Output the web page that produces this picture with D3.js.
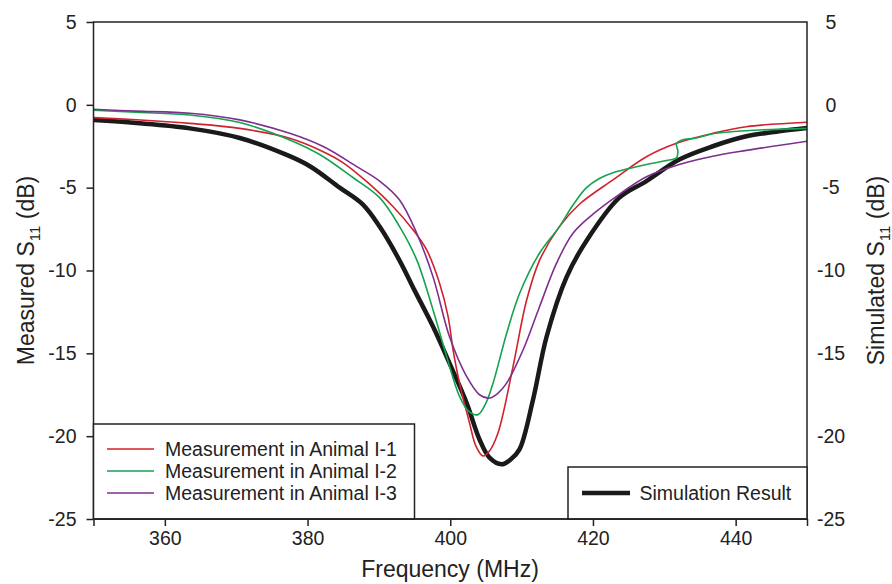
<!DOCTYPE html>
<html>
<head>
<meta charset="utf-8">
<script src="https://cdn.jsdelivr.net/npm/d3@7"></script>
<style>
  body { margin: 0; background: #fff; }
  text { font-family: "Liberation Sans", Arial, sans-serif; fill: #222; }
</style>
</head>
<body>
<div class="chart"></div>
<script>
// ---- data ----
var simFreq = [350, 356, 363.5, 370.5, 377.5, 380.5, 384.5, 387.7, 390.1, 392.9, 395, 397.6, 400, 402.3, 404.1, 405.5, 407.2, 408.5, 409.7, 411.6, 413.5, 416.3, 419.1, 423.7, 427.5, 432.1, 436.8, 441.5, 446.1, 450];
var simS11 = [-0.92, -1.1, -1.42, -2.0, -3.1, -3.75, -5.0, -6.0, -7.35, -9.4, -11.2, -13.4, -15.7, -18.0, -20.2, -21.3, -21.7, -21.4, -20.8, -17.8, -14.0, -10.4, -8.2, -5.6, -4.6, -3.3, -2.5, -1.9, -1.6, -1.4];

var redFreq = [350, 356, 363.5, 370.5, 377.5, 382.2, 385, 388.3, 392, 394.8, 396.7, 398.5, 399.7, 400.4, 401.3, 402.7, 403.6, 404.6, 405.5, 406.7, 408.8, 410.7, 412.5, 415.3, 418.1, 422.8, 427.5, 431.7, 436.8, 441.5, 450];
var redS11 = [-0.77, -0.9, -1.12, -1.42, -2.02, -2.83, -3.5, -4.64, -6.15, -7.55, -8.76, -10.77, -12.78, -14.8, -16.8, -19.2, -20.6, -21.2, -20.9, -19.8, -15.8, -11.8, -9.4, -7.35, -6.0, -4.53, -3.13, -2.32, -1.72, -1.32, -1.05];

var greenFreq = [350, 356, 363.5, 370.5, 377.5, 381.7, 386.4, 390.1, 392.9, 395.3, 397.6, 399.5, 401.3, 402.6, 403.9, 405, 406, 407.9, 409.7, 412.5, 415.3, 417.2, 419.1, 420.9, 422.8, 427.5, 430.5, 431.7, 431.9, 431.7, 432.3, 434.5, 436.8, 441.5, 450];
var greenS11 = [-0.32, -0.45, -0.61, -1.07, -2.12, -3.0, -4.4, -5.6, -7.35, -9.36, -12.4, -15.2, -17.6, -18.5, -18.7, -18.0, -16.8, -13.8, -11.4, -8.96, -7.35, -6.05, -5.0, -4.45, -4.1, -3.6, -3.35, -3.2, -2.8, -2.35, -2.15, -2.0, -1.75, -1.56, -1.42];

var purpleFreq = [350, 356, 363.5, 370.5, 377.5, 382.2, 386.9, 390.1, 392.9, 395.3, 397.6, 399.9, 402.3, 404.1, 405.5, 406.7, 407.9, 410.2, 412.5, 414.9, 417.2, 420, 423.7, 427.5, 432.1, 436.8, 441.5, 450];
var purpleS11 = [-0.27, -0.38, -0.51, -0.91, -1.72, -2.52, -3.73, -4.6, -5.74, -7.75, -10.4, -14.0, -16.4, -17.5, -17.7, -17.4, -16.8, -14.8, -12.2, -9.56, -7.75, -6.6, -5.4, -4.34, -3.6, -3.1, -2.75, -2.2];

var xTicks = [360, 380, 400, 420, 440];
var yTicks = [5, 0, -5, -10, -15, -20, -25];

var measNames = ["Measurement in Animal I-1", "Measurement in Animal I-2", "Measurement in Animal I-3"];
var measColors = ["#d0222e", "#14a34f", "#7e2f8e"];
var simName = "Simulation Result";

// ---- layout ----
var svgWidth = 892;
var svgHeight = 584;
var margin = { top: 22, right: 85, bottom: 65, left: 93.5 };
var width = svgWidth - margin.left - margin.right;
var height = svgHeight - margin.top - margin.bottom;

var svg = d3.select(".chart")
  .append("svg")
  .attr("width", svgWidth)
  .attr("height", svgHeight);

var chartGroup = svg.append("g")
  .attr("transform", `translate(${margin.left}, ${margin.top})`);

var xScale = d3.scaleLinear().domain([350, 450]).range([0, width]);
var yScale = d3.scaleLinear().domain([-25, 5]).range([height, 0]);

// axes (plain hyphen for negatives, like the original)
var plain = d => String(d);
var bottomAxis = d3.axisBottom(xScale).tickValues([350].concat(xTicks, [450]))
  .tickSize(7).tickPadding(5)
  .tickFormat(d => (d === 350 || d === 450) ? "" : d);
var leftAxis = d3.axisLeft(yScale).tickValues(yTicks).tickSize(7).tickPadding(10).tickFormat(plain);
var rightAxis = d3.axisRight(yScale).tickValues(yTicks).tickSize(0).tickPadding(24).tickFormat(plain);

function styleAxis(g) {
  g.select(".domain").remove();
  g.selectAll(".tick line").attr("stroke", "#222").attr("stroke-width", 1.5);
  g.selectAll(".tick text").style("font-size", "19.5px").attr("fill", "#222")
    .style("font-family", "'Liberation Sans', Arial, sans-serif");
}

chartGroup.append("g").attr("transform", `translate(0,${height})`).call(bottomAxis).call(styleAxis);
chartGroup.append("g").call(leftAxis).call(styleAxis);
chartGroup.append("g").attr("transform", `translate(${width},0)`).call(rightAxis).call(styleAxis)
  .selectAll(".tick text").attr("text-anchor", "middle");

// lines
var line = d3.line()
  .x(d => xScale(d[0]))
  .y(d => yScale(d[1]))
  .curve(d3.curveCatmullRom.alpha(0.5));

chartGroup.append("clipPath").attr("id", "plotClip")
  .append("rect").attr("width", width).attr("height", height);

var plot = chartGroup.append("g").attr("clip-path", "url(#plotClip)");

var measSeries = [
  d3.zip(redFreq, redS11),
  d3.zip(greenFreq, greenS11),
  d3.zip(purpleFreq, purpleS11)
];

plot.append("path")
  .datum(d3.zip(simFreq, simS11))
  .attr("d", line)
  .attr("fill", "none")
  .attr("stroke", "#1a1a1a")
  .attr("stroke-width", 4.5);

plot.selectAll(".meas")
  .data(measSeries)
  .enter()
  .append("path")
  .attr("class", "meas")
  .attr("d", line)
  .attr("fill", "none")
  .attr("stroke", (d, i) => measColors[i])
  .attr("stroke-width", 1.6);

// frame
chartGroup.append("rect")
  .attr("width", width)
  .attr("height", height)
  .attr("fill", "none")
  .attr("stroke", "#222")
  .attr("stroke-width", 1.5);

// legend 1 (measurements)
var leg1 = chartGroup.append("g");
leg1.append("rect")
  .attr("x", 0).attr("y", 402)
  .attr("width", 321).attr("height", height - 402)
  .attr("fill", "#fff").attr("stroke", "#222").attr("stroke-width", 1.5);
measNames.forEach(function (name, i) {
  var yy = 427 + i * 22;
  leg1.append("line")
    .attr("x1", 13.5).attr("x2", 60.5)
    .attr("y1", yy).attr("y2", yy)
    .attr("stroke", measColors[i]).attr("stroke-width", 1.6);
  leg1.append("text")
    .attr("x", 71.5).attr("y", yy + 7)
    .style("font-size", "19.5px")
    .text(name);
});

// legend 2 (simulation)
var leg2 = chartGroup.append("g");
leg2.append("rect")
  .attr("x", 474.5).attr("y", 445)
  .attr("width", width - 474.5).attr("height", height - 445)
  .attr("fill", "#fff").attr("stroke", "#222").attr("stroke-width", 1.5);
leg2.append("line")
  .attr("x1", 488.5).attr("x2", 536.5)
  .attr("y1", 471).attr("y2", 471)
  .attr("stroke", "#1a1a1a").attr("stroke-width", 4.5);
leg2.append("text")
  .attr("x", 546).attr("y", 478)
  .style("font-size", "19.5px")
  .text(simName);

// redraw frame bottom over legends
chartGroup.append("line")
  .attr("x1", 0).attr("x2", width)
  .attr("y1", height).attr("y2", height)
  .attr("stroke", "#222").attr("stroke-width", 1.5);

// axis labels
svg.append("text")
  .attr("x", 450).attr("y", 577)
  .attr("text-anchor", "middle")
  .style("font-size", "23px")
  .text("Frequency (MHz)");

function yLabel(x, main) {
  var t = svg.append("text")
    .attr("transform", `translate(${x}, ${margin.top + height / 2}) rotate(-90)`)
    .attr("text-anchor", "middle")
    .style("font-size", "23px");
  t.append("tspan").text(main + " S");
  t.append("tspan").attr("dy", 6).style("font-size", "15px").text("11");
  t.append("tspan").attr("dy", -6).text(" (dB)");
}
yLabel(34, "Measured");
yLabel(884, "Simulated");
</script>
</body>
</html>
